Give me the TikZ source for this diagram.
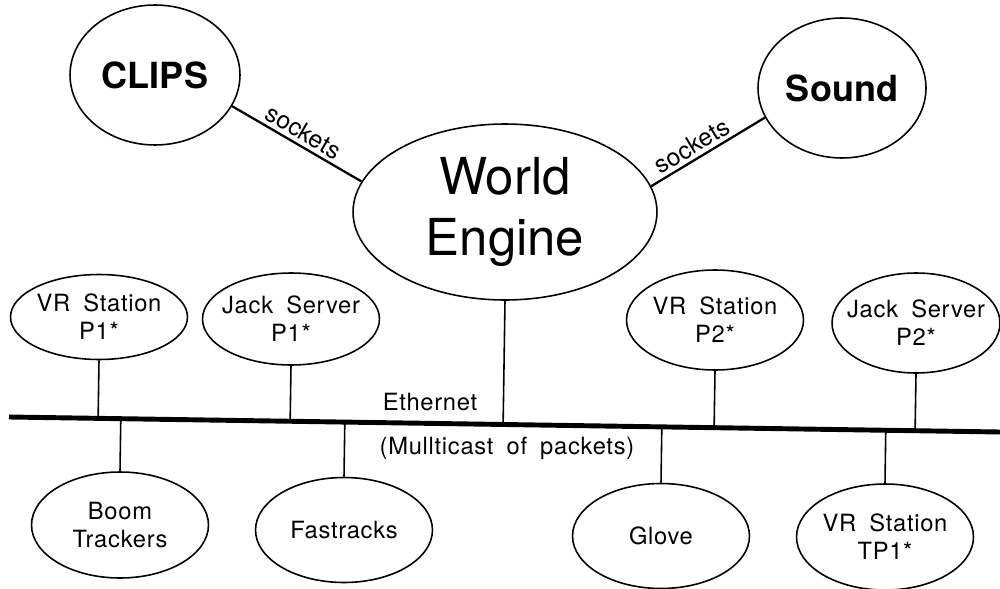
\documentclass[tikz,border=0pt]{standalone}
\usepackage{fontspec}
\setmainfont{TeX Gyre Heros}
\newfontfamily\wide{TeX Gyre Heros}[LetterSpace=3,WordSpace=1.8]
\usetikzlibrary{shapes.geometric,calc}

\begin{document}
\begin{tikzpicture}[
  x=0.02cm, y=-0.02cm,
  station/.style={ellipse, draw, line width=0.9pt, inner sep=-8pt, align=center,
                  minimum width=3.54cm, minimum height=2cm,
                  font=\wide\fontsize{13.5}{16}\selectfont},
  app/.style={ellipse, draw, line width=0.9pt, inner sep=0pt,
              minimum width=3.4cm, minimum height=2.8cm,
              font=\bfseries\fontsize{20.5}{25}\selectfont},
  engine/.style={ellipse, draw, line width=0.9pt, inner sep=0pt, align=center,
                 minimum width=6.08cm, minimum height=3.52cm,
                 font=\fontsize{29}{35}\selectfont},
  sock/.style={line width=1.3pt},
  socklbl/.style={sloped, above, inner sep=2pt, font=\fontsize{14}{16}\selectfont},
  drop/.style={line width=0.9pt},
  bus/.style={line width=2.8pt},
  lbl/.style={font=\wide\fontsize{13.5}{16}\selectfont, inner sep=0pt},
]
\useasboundingbox (0,0) rectangle (1000,588);

% top: world engine and its socket clients
\node[engine] (WE) at (505,212) {World\\Engine};
\node[app] (CLIPS) at (155,75) {CLIPS};
\node[app, minimum width=3.36cm] (Sound) at (842,88) {Sound};

\draw[sock] (CLIPS.-22) -- node[midway, socklbl] {sockets} (WE.168);
\draw[sock] (WE.10) -- node[pos=0.42, socklbl] {sockets} (Sound.201);

% ethernet bus
\coordinate (busW) at (9,417);
\coordinate (busE) at (1000,432);
\draw[bus] (busW) -- (busE);
\node[lbl] (eth) at (430,402) {Ethernet};
\node[lbl] (mcast) at (507,448) {(Mullticast of packets)};

% stations above the bus
\node[station, minimum height=1.7cm]  (VRa) at (99,317)  {VR Station\\P1*};
\node[station, minimum height=1.84cm] (JSa) at (291,319) {Jack Server\\P1*};
\node[station] (VRb) at (715,320) {VR Station\\P2*};
\node[station, minimum width=3.36cm] (JSb) at (916,323) {Jack Server\\P2*};

% devices below the bus
\node[station, minimum height=2.12cm] (Boom)  at (120,525) {Boom\\Trackers};
\node[station, minimum height=2.1cm]  (Fast)  at (344,530) {Fastracks};
\node[station, minimum height=2.1cm]  (Glove) at (661,536) {Glove};
\node[station, minimum height=2.12cm] (VRc)   at (885,537) {VR Station\\TP1*};

% drops to the bus
\foreach \n in {VRa,JSa,WE,VRb,JSb}
  {\draw[drop] (\n.south) -- ($(busW)!(\n.south)!(busE)$);}
\foreach \n in {Boom,Fast,Glove,VRc}
  {\draw[drop] ($(busW)!(\n.north)!(busE)$) -- (\n.north);}

\end{tikzpicture}
\end{document}
